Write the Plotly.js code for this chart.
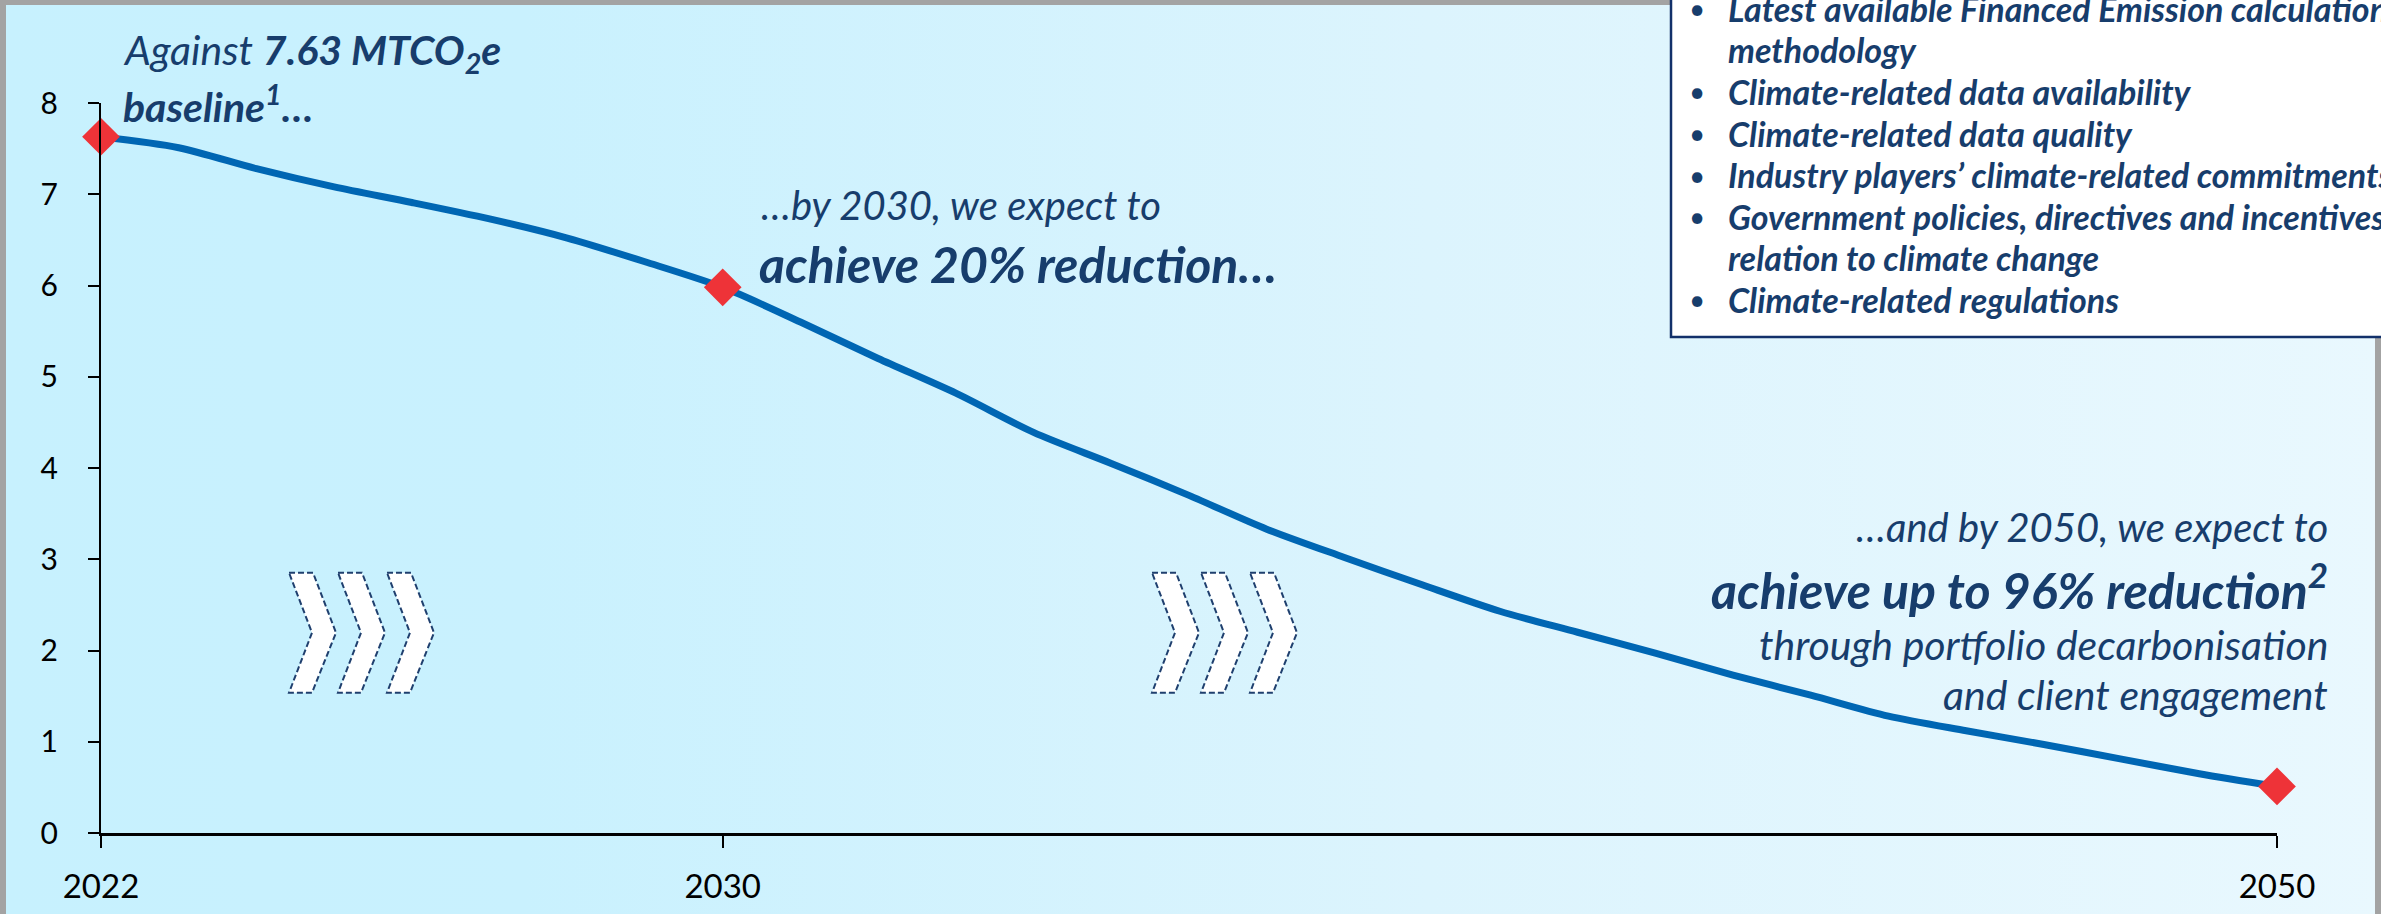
<!DOCTYPE html>
<html><head><meta charset="utf-8">
<script src="https://cdn.plot.ly/plotly-3.0.1.min.js"></script>
<style>
html,body{margin:0;padding:0;overflow:hidden;}
#chart{width:2381px;height:914px;background:linear-gradient(to right,#c7f1fe 0%,#c9f1fe 22%,#dcf4fd 60%,#e9f8fe 100%);}
</style></head><body><div id="chart"></div>
<script>
// ---- data ----
const years = [2022,2023,2024,2025,2026,2027,2028,2029,2030,2031,2032,2033,2034,2035,2036,2037,2038,2039,2040,2041,2042,2043,2044,2045,2046,2047,2048,2049,2050];
const emissions = [7.63,7.51,7.28,7.08,6.91,6.73,6.52,6.26,5.98,5.60,5.20,4.82,4.39,4.05,3.70,3.33,3.02,2.72,2.43,2.20,1.97,1.73,1.51,1.28,1.12,0.97,0.81,0.65,0.51];
const milestoneYears = [2022,2030,2050];
const milestoneValues = [7.63,5.98,0.51];
const xTickYears = [2022,2030,2050];
const xTickLabels = ['2022','2030','2050'];
const yTickValues = [0,1,2,3,4,5,6,7,8];
const yTickLabels = ['0','1','2','3','4','5','6','7','8'];
const boxLines = [
  {bullet:true,  text:'Latest available Financed Emission calculation'},
  {bullet:false, text:'methodology'},
  {bullet:true,  text:'Climate-related data availability'},
  {bullet:true,  text:'Climate-related data quality'},
  {bullet:true,  text:'Industry players\u2019 climate-related commitments'},
  {bullet:true,  text:'Government policies, directives and incentives in'},
  {bullet:false, text:'relation to climate change'},
  {bullet:true,  text:'Climate-related regulations'}
];

// ---- geometry ----
const W=2381,H=914,L=101,R=104,T=103,B=81;
const PW=W-L-R, PH=H-T-B;
const xp = px => (px-L)/PW;
const yp = py => (H-B-py)/PH;
const FONT = 'Lato, "Open Sans", sans-serif';
const NAVY = '#173d6c';

function label(text, px, baseline, size, anchor){
  return {xref:'paper', yref:'paper', x:xp(px), y:yp(baseline-0.39*size),
    xanchor:anchor, yanchor:'middle', text:text, showarrow:false, borderpad:0,
    font:{family:FONT, size:size, color:NAVY, style:'italic'}};
}

const annotations = [
  label('Against <b>7.63 MTCO<sub>2</sub>e</b>', 122, 68, 41, 'left'),
  label('<b>baseline<sup>1</sup>\u2026</b>', 122, 120, 41, 'left'),
  label('\u2026by 2030, we expect to', 760, 221, 40, 'left'),
  label('<b>achieve 20% reduction\u2026</b>', 758, 283, 50, 'left'),
  label('\u2026and by 2050, we expect to', 2329, 543, 40, 'right'),
  label('<b>achieve up to 96% reduction<sup>2</sup></b>', 2329, 606, 50, 'right'),
  label('through portfolio decarbonisation', 2329, 660, 41, 'right'),
  label('and client engagement', 2329, 710, 41, 'right')
];
boxLines.forEach((ln,i)=>{
  const base = 21.5 + 41.6*i;
  annotations.push(label('<b>'+ln.text+'</b>', 1727, base, 34, 'left'));
  if(ln.bullet){
    annotations.push({xref:'paper', yref:'paper', x:xp(1697), y:yp(base-0.39*34),
      xanchor:'center', yanchor:'middle', text:'\u2022', showarrow:false, borderpad:0,
      font:{family:FONT, size:28, color:NAVY}});
  }
});

// ---- decorative shapes ----
const shapes = [];
function rectPx(x0,y0,x1,y1,fill,line){
  shapes.push({type:'rect', xref:'paper', yref:'paper', x0:xp(x0), x1:xp(x1), y0:yp(y1), y1:yp(y0),
    fillcolor:fill, line:line||{width:0}, layer:'above'});
}
const GRAY='#a3a3a3';
rectPx(0,0,6,914,GRAY);
rectPx(0,0,1680,5,GRAY);
rectPx(2375,300,2381,914,GRAY);
rectPx(1671,-20,2400,337,'#ffffff',{color:'#12306a', width:2.5});

function chevron(x0){
  const y0=572.7;
  const pts=[[0,0],[24,0],[47,60],[23,120],[0,120],[23,60]];
  let d='';
  pts.forEach((p,i)=>{ d += (i?' L ':'M ')+xp(x0+p[0]).toFixed(5)+','+yp(y0+p[1]).toFixed(5); });
  d += ' Z';
  shapes.push({type:'path', xref:'paper', yref:'paper', path:d, fillcolor:'#ffffff',
    line:{color:'#1f3f6e', width:2, dash:'6px,3px'}, layer:'above'});
}
[289,338,387,1152,1201,1250].forEach(chevron);

// ---- traces ----
const traces = [
  {x:years, y:emissions, type:'scatter', mode:'lines', cliponaxis:false,
   line:{color:'#0066b3', width:7, shape:'spline', smoothing:0.8}, hoverinfo:'skip'},
  {x:milestoneYears, y:milestoneValues, type:'scatter', mode:'markers', cliponaxis:false,
   marker:{symbol:'diamond', size:29, color:'#ee3338', line:{width:0}}, hoverinfo:'skip'}
];

const layout = {
  width:W, height:H, margin:{l:L, r:R, t:T, b:B, pad:0},
  paper_bgcolor:'rgba(0,0,0,0)', plot_bgcolor:'rgba(0,0,0,0)',
  showlegend:false,
  xaxis:{range:[2022,2050], tickmode:'array', tickvals:xTickYears, ticktext:xTickLabels,
    showgrid:false, zeroline:false, showline:true, linecolor:'#000', linewidth:3,
    ticks:'outside', ticklen:12, tickwidth:2, tickcolor:'#000', ticklabelstandoff:10,
    tickfont:{family:FONT, size:33, color:'#000'}, fixedrange:true},
  yaxis:{range:[0,8], tickmode:'array', tickvals:yTickValues, ticktext:yTickLabels,
    showgrid:false, zeroline:false, showline:true, linecolor:'#000', linewidth:2,
    ticks:'outside', ticklen:11, tickwidth:2, tickcolor:'#000', ticklabelstandoff:24,
    tickfont:{family:FONT, size:30, color:'#000'}, fixedrange:true},
  annotations:annotations, shapes:shapes
};
Plotly.newPlot('chart', traces, layout, {staticPlot:true, displayModeBar:false});
</script></body></html>
